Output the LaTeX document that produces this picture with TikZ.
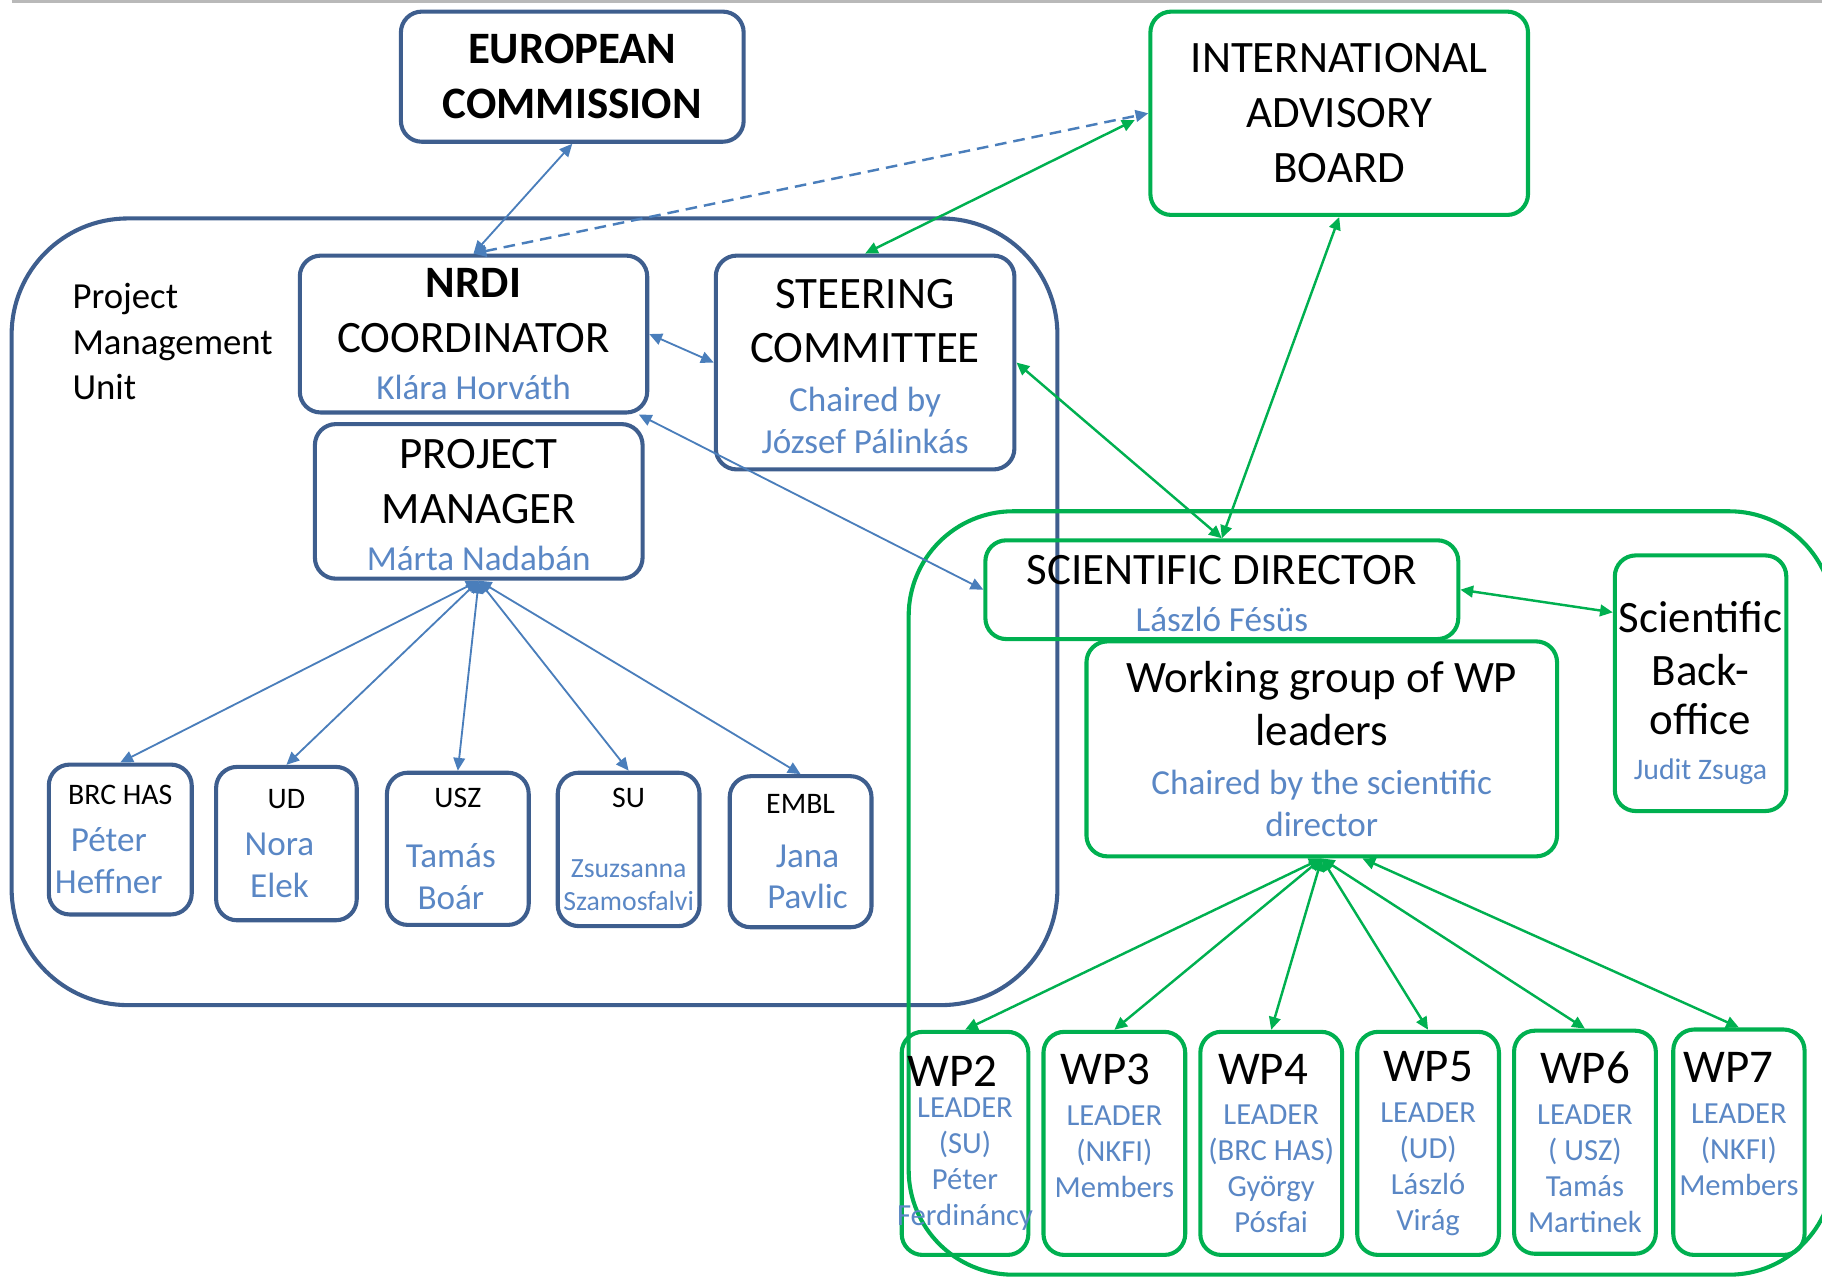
\documentclass[tikz,border=0pt]{standalone}
\usepackage{fontspec}
\setmainfont{Carlito}
\usetikzlibrary{arrows.meta}
\definecolor{pmublue}{HTML}{3E5E8E}
\definecolor{lnkblue}{HTML}{4A7EBB}
\definecolor{nmblue}{HTML}{5A87C5}
\definecolor{scgreen}{HTML}{00B050}
\newcommand{\nm}[1]{\textcolor{nmblue}{#1}}
\newcommand{\ttl}{\fontsize{11}{13.4}\selectfont}
\newcommand{\nmf}{\fontsize{8.6}{10.2}\selectfont}
\newcommand{\hdf}{\fontsize{7.3}{8}\selectfont}
\newcommand{\wpf}{\fontsize{11.5}{12}\selectfont}
\tikzset{pmn/.style={
  draw=pmublue,
  line width=1pt,
  rounded corners=1.8mm,
  align=center,
  font=\ttl,
  inner sep=1pt
}}
\tikzset{scn/.style={pmn,draw=scgreen}}
\tikzset{ptn/.style={pmn,font=\nmf,inner xsep=0.5pt}}
\tikzset{wpn/.style={scn,font=\fontsize{7.5}{8.8}\selectfont,inner xsep=0.5pt,
  minimum width=12.2mm,minimum height=19.2mm}}
\tikzset{lnk/.style={
  draw=lnkblue,
  line width=0.45pt,
  {Triangle[length=1.1mm,width=1mm]}-{Triangle[length=1.1mm,width=1mm]}
}}
\tikzset{scl/.style={lnk,draw=scgreen,line width=0.6pt}}

\begin{document}
\begin{tikzpicture}[x=0.1mm,y=-0.1mm]
    \useasboundingbox (0,0) rectangle (1568,1100);
    \clip (0,0) rectangle (1568,1100);
    \draw[gray!55,line width=0.8pt] (10,1.5) -- (1568,1.5);

    % Containers
    \draw[pmublue,line width=1pt,rounded corners=10mm] (10,188) rectangle (910,865);
    \draw[scgreen,line width=1pt,rounded corners=9mm] (782,440) rectangle (1578,1097);
    \node[font=\fontsize{9}{11.1}\selectfont,align=left,anchor=west] (pmu) at (50,294)
      {Project\\Management\\Unit};

    % Top boxes
    \node[pmn,font=\ttl\bfseries,minimum width=29.5mm,minimum height=11.2mm] (ec)
      at (492.5,66) {EUROPEAN\\COMMISSION};
    \node[scn,minimum width=32.5mm,minimum height=17.5mm] (iab)
      at (1152.5,97.5) {INTERNATIONAL\\ADVISORY\\BOARD};

    % Project management unit
    \node[pmn,minimum width=29.9mm,minimum height=13.5mm] (nrdi) at (407.5,287.5)
      {\textbf{NRDI}\\COORDINATOR\\[-2pt]\nmf\nm{Klára Horváth}};
    \node[pmn,minimum width=25.7mm,minimum height=18.4mm] (steer) at (744.5,312)
      {\rule{0pt}{9pt}STEERING\\COMMITTEE\\[-1.4pt]\nmf\nm{Chaired by}\\[-3.2pt]\nmf\nm{József Pálinkás}};
    \node[pmn,minimum width=28.2mm,minimum height=13.3mm] (pm) at (412,431.5)
      {\rule{0pt}{9pt}PROJECT\\MANAGER\\[-2pt]\nmf\nm{Márta Nadabán}};

    % Partners
    \node[ptn,minimum width=12.3mm,minimum height=12.9mm] (brc) at (103.5,722.5)
      {\hdf BRC HAS\\[1.2pt]\nm{Péter}\kern5.6pt\\\nm{Heffner}\kern5.6pt};
    \node[ptn,minimum width=12.1mm,minimum height=13.2mm] (ud) at (246.5,726)
      {\hdf UD\\[1.2pt]\nm{Nora}\kern3.4pt\\\nm{Elek}\kern3.4pt};
    \node[ptn,minimum width=12.2mm,minimum height=13.1mm] (usz) at (394,730.5)
      {\hdf USZ\\[4.6pt]\nm{Tamás}\kern3.4pt\\\nm{Boár}\kern3.4pt};
    \node[ptn,minimum width=12.2mm,minimum height=13.2mm] (su) at (541,731)
      {\hdf SU\\[6.8pt]\fontsize{6.8}{8}\selectfont\nm{Zsuzsanna}\\[-2.2pt]\fontsize{6.8}{8}\selectfont\nm{Szamosfalvi}};
    \node[ptn,minimum width=12.2mm,minimum height=13mm] (embl) at (689,733)
      {\hdf EMBL\\[2.9pt]\kern3.4pt\nm{Jana}\\\kern3.4pt\nm{Pavlic}};

    % Scientific side
    \node[scn,minimum width=40.7mm,minimum height=8.5mm] (sd) at (1051.5,507.5)
      {\rule{0pt}{9pt}SCIENTIFIC DIRECTOR\\[-2pt]\nmf\nm{László Fésüs}};
    \node[scn,minimum width=40.5mm,minimum height=18.5mm] (wg) at (1137.5,644.5)
      {Working group of WP\\[-0.3pt]leaders\\[-1.4pt]\nmf\nm{Chaired by the scientific}\\[-3.2pt]\nmf\nm{director}};
    \node[scn,minimum width=14.7mm,minimum height=22mm] (sbo) at (1463.5,588)
      {\rule{0pt}{12.4pt}Scientific\\[-0.6pt]Back-\\[-1.2pt]office\\[-2.6pt]\hdf\nm{Judit Zsuga}};

    % Work packages
    \node[wpn,minimum width=10.9mm] (wp2) at (830.5,984)
      {\wpf WP2\kern6pt\\[-1.1pt]\nm{LEADER}\\\nm{(SU)}\\\nm{Péter}\\\nm{\makebox[9mm]{Ferdináncy}}};
    \node[wpn] (wp3) at (959,984)
      {\wpf WP3\kern4.5pt\\[1.2pt]\nm{LEADER}\\\nm{(NKFI)}\\\nm{Members}\\\phantom{L}};
    \node[wpn] (wp4) at (1094,984)
      {\wpf WP4\kern4pt\\[1.2pt]\nm{LEADER}\\\nm{(BRC HAS)}\\\nm{György}\\\nm{Pósfai}};
    \node[wpn] (wp5) at (1229,984)
      {\wpf WP5\\[1.2pt]\nm{LEADER}\\\nm{(UD)}\\\nm{László}\\\nm{Virág}};
    \node[wpn] (wp6) at (1364,983)
      {\wpf WP6\\[1.2pt]\nm{LEADER}\\\nm{( USZ)}\\\nm{Tamás}\\\nm{Martinek}};
    \node[wpn,minimum width=11.3mm,minimum height=19.4mm] (wp7) at (1496.5,983)
      {\wpf WP7\kern5pt\\[1.2pt]\nm{LEADER}\\\nm{(NKFI)}\\\nm{Members}\\\phantom{L}};

    % Blue links
    \draw[lnk] (ec.south) -- (nrdi.north);
    \draw[lnk,line width=0.6pt,dash pattern=on 1mm off 0.6mm] (nrdi.north) -- (iab.west);
    \draw[lnk] (nrdi.east) -- (steer.west);
    \draw[lnk] ([xshift=-0.9mm]nrdi.south east) -- (sd.west);
    \draw[lnk] (pm.south) -- (brc.north);
    \draw[lnk] (pm.south) -- (ud.north);
    \draw[lnk] (pm.south) -- (usz.north);
    \draw[lnk] (pm.south) -- (su.north);
    \draw[lnk] (pm.south) -- (embl.north);

    % Green links
    \draw[scl,shorten >=1.3mm] (steer.north) -- (iab.west);
    \draw[scl] (iab.south) -- (sd.north);
    \draw[scl] (steer.east) -- (sd.north);
    \draw[scl] (sd.east) -- ([yshift=6.1mm]sbo.west);
    \draw[scl] (wg.south) -- (wp2.north);
    \draw[scl] (wg.south) -- (wp3.north);
    \draw[scl] (wg.south) -- (wp4.north);
    \draw[scl] (wg.south) -- (wp5.north);
    \draw[scl] (wg.south) -- (wp6.north);
    \draw[scl] ([xshift=3.5mm]wg.south) -- (wp7.north);
\end{tikzpicture}
\end{document}
